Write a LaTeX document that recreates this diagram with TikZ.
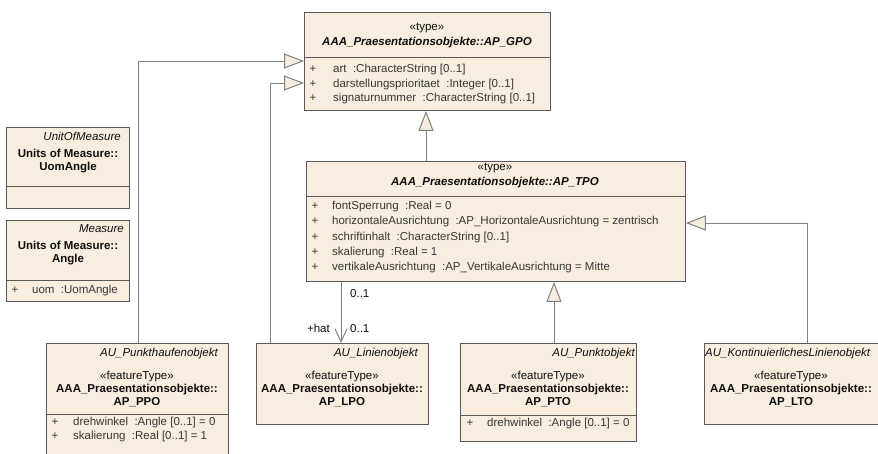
\documentclass[tikz,border=0pt]{standalone}
\usepackage{fontspec}
\setmainfont{Liberation Sans}
\usetikzlibrary{arrows.meta}
\definecolor{boxfill}{RGB}{248,237,223}
\definecolor{boxline}{RGB}{90,90,90}
\definecolor{conn}{RGB}{128,128,128}
\definecolor{txt}{RGB}{15,15,15}
\definecolor{attr}{RGB}{55,55,55}
\newcommand\umlfs{\fontsize{11.5}{13}\selectfont}
\begin{document}
\begin{tikzpicture}[x=1pt,y=-1pt,
  font=\umlfs,
  umlbox/.style={draw=boxline, fill=boxfill, line width=0.9pt, inner sep=0pt, anchor=north west},
  sepline/.style={draw=boxline, line width=0.9pt},
  gen/.style={draw=conn, line width=1pt, -{Triangle[length=20pt,width=15pt,fill=boxfill,line width=1pt]}},
  assoc/.style={draw=conn, line width=1pt, -{Straight Barb[length=13pt,width=12pt,line width=1pt]}},
  stereo/.style={text=txt, anchor=mid, inner sep=0pt},
  cname/.style={text=txt, font=\umlfs\bfseries\itshape, anchor=mid, inner sep=0pt},
  bname/.style={text=txt, font=\umlfs\bfseries, anchor=mid, inner sep=0pt},
  tagtxt/.style={text=txt, font=\umlfs\itshape, anchor=mid east, inner sep=0pt},
  attrtxt/.style={text=attr, anchor=mid west, inner sep=0pt},
  plus/.style={text=attr, anchor=mid, inner sep=0pt},
  lbl/.style={text=txt, anchor=mid west, inner sep=0pt}
]
\useasboundingbox[fill=white] (0,0) rectangle (878,453);

% ---------- boxes ----------
\node[umlbox, minimum width=246pt, minimum height=98pt] (gpo) at (304,12) {};
\node[umlbox, minimum width=379pt, minimum height=120pt] (tpo) at (306,161) {};
\node[umlbox, minimum width=123pt, minimum height=81pt] (uom) at (6,127) {};
\node[umlbox, minimum width=123pt, minimum height=81pt] (meas) at (6,220) {};
\node[umlbox, minimum width=182pt, minimum height=120pt] (ppo) at (46,343) {};
\node[umlbox, minimum width=172pt, minimum height=81pt] (lpo) at (256,343) {};
\node[umlbox, minimum width=176pt, minimum height=98pt] (pto) at (460,343) {};
\node[umlbox, minimum width=180pt, minimum height=81pt] (lto) at (704,343) {};

% ---------- separators ----------
\draw[sepline] (gpo.west |- 0,57) -- (gpo.east |- 0,57);
\draw[sepline] (tpo.west |- 0,196) -- (tpo.east |- 0,196);
\draw[sepline] (uom.west |- 0,186) -- (uom.east |- 0,186);
\draw[sepline] (meas.west |- 0,280) -- (meas.east |- 0,280);
\draw[sepline] (ppo.west |- 0,414) -- (ppo.east |- 0,414);
\draw[sepline] (pto.west |- 0,415) -- (pto.east |- 0,415);

% ---------- GPO ----------
\node[stereo] (g1) at (427,28) {«type»};
\node[cname] (g2) at (427,43) {AAA\_Praesentationsobjekte::AP\_GPO};
\node[plus] (g3) at (313,70) {+};
\node[attrtxt] (g4) at (333,70) {art\ \ :CharacterString [0..1]};
\node[plus] (g5) at (313,85) {+};
\node[attrtxt] (g6) at (333,85) {darstellungsprioritaet\ \ :Integer [0..1]};
\node[plus] (g7) at (313,99) {+};
\node[attrtxt] (g8) at (333,99) {signaturnummer\ \ :CharacterString [0..1]};

% ---------- TPO ----------
\node[stereo] (t1) at (495,168) {«type»};
\node[cname] (t2) at (495,183) {AAA\_Praesentationsobjekte::AP\_TPO};
\node[plus] (t3) at (315,207) {+};
\node[attrtxt] (t4) at (332,207) {fontSperrung\ \ :Real = 0};
\node[plus] (t5) at (315,222) {+};
\node[attrtxt] (t6) at (332,222) {horizontaleAusrichtung\ \ :AP\_HorizontaleAusrichtung = zentrisch};
\node[plus] (t7) at (315,238) {+};
\node[attrtxt] (t8) at (332,238) {schriftinhalt\ \ :CharacterString [0..1]};
\node[plus] (t9) at (315,253) {+};
\node[attrtxt] (t10) at (332,253) {skalierung\ \ :Real = 1};
\node[plus] (t11) at (315,268) {+};
\node[attrtxt] (t12) at (332,268) {vertikaleAusrichtung\ \ :AP\_VertikaleAusrichtung = Mitte};

% ---------- left boxes ----------
\node[tagtxt] (u1) at (121,138) {UnitOfMeasure};
\node[bname] (u2) at (68,155) {Units of Measure::};
\node[bname] (u3) at (68,168) {UomAngle};
\node[tagtxt] (m1) at (124,230) {Measure};
\node[bname] (m2) at (68,247) {Units of Measure::};
\node[bname] (m3) at (68,260) {Angle};
\node[plus] (m4) at (15,291) {+};
\node[attrtxt] (m5) at (32,291) {uom\ \ :UomAngle};

% ---------- PPO ----------
\node[tagtxt] (p1) at (218,354) {AU\_Punkthaufenobjekt};
\node[stereo] (p2) at (137,377) {«featureType»};
\node[bname] (p3) at (137,390) {AAA\_Praesentationsobjekte::};
\node[bname] (p4) at (137,403) {AP\_PPO};
\node[plus] (p5) at (55,423) {+};
\node[attrtxt] (p6) at (73,423) {drehwinkel\ \ :Angle [0..1] = 0};
\node[plus] (p7) at (55,437) {+};
\node[attrtxt] (p8) at (73,437) {skalierung\ \ :Real [0..1] = 1};

% ---------- LPO ----------
\node[tagtxt] (l1) at (418,354) {AU\_Linienobjekt};
\node[stereo] (l2) at (342,377) {«featureType»};
\node[bname] (l3) at (342,390) {AAA\_Praesentationsobjekte::};
\node[bname] (l4) at (342,403) {AP\_LPO};

% ---------- PTO ----------
\node[tagtxt] (o1) at (635,354) {AU\_Punktobjekt};
\node[stereo] (o2) at (548,377) {«featureType»};
\node[bname] (o3) at (548,390) {AAA\_Praesentationsobjekte::};
\node[bname] (o4) at (548,403) {AP\_PTO};
\node[plus] (o5) at (470,424) {+};
\node[attrtxt] (o6) at (487,424) {drehwinkel\ \ :Angle [0..1] = 0};

% ---------- LTO ----------
\node[text=txt, font=\umlfs\itshape, anchor=mid west, inner sep=0pt] (k1) at (705,354) {AU\_KontinuierlichesLinienobjekt};
\node[stereo] (k2) at (791,377) {«featureType»};
\node[bname] (k3) at (791,390) {AAA\_Praesentationsobjekte::};
\node[bname] (k4) at (791,403) {AP\_LTO};

% ---------- connectors ----------
\coordinate (c1) at (426,0);
\coordinate (c2) at (138,61);
\coordinate (c3) at (270,83);
\coordinate (c4) at (554,0);
\coordinate (c5) at (807,223);
\coordinate (c6) at (341,0);
\draw[gen] (tpo.north -| c1) -- (gpo.south -| c1);
\draw[gen] (ppo.north -| c2) |- (gpo.west |- c2);
\draw[gen] (lpo.north -| c3) |- (gpo.west |- c3);
\draw[gen] (pto.north -| c4) -- (tpo.south -| c4);
\draw[gen] (lto.north -| c5) |- (tpo.east |- c5);
\draw[assoc] (tpo.south -| c6) -- (lpo.north -| c6);

\node[lbl] (a1) at (350,295) {0..1};
\node[lbl] (a2) at (350,330) {0..1};
\node[text=txt, anchor=mid east, inner sep=0pt] (a3) at (330,330) {+hat};
\end{tikzpicture}
\end{document}
